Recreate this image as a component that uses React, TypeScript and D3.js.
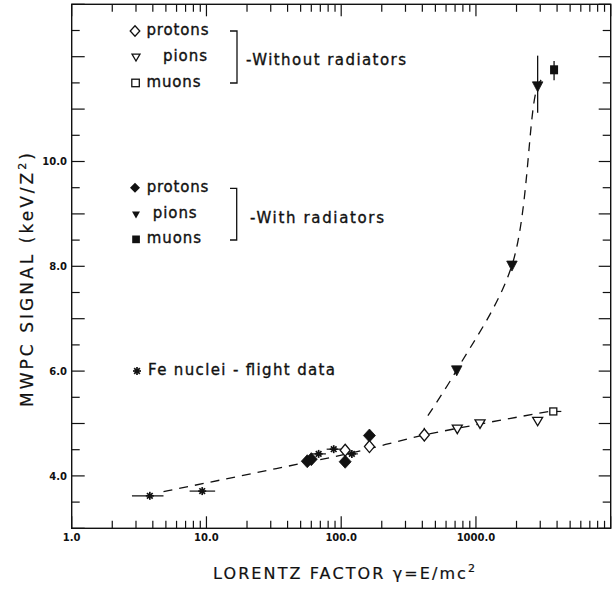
import React from 'react';
import * as d3 from 'd3';

const W = 613;
const H = 589;

// ---- data (Lorentz factor gamma, MWPC signal keV/Z^2) ----
const feGamma = [3.8, 9.3, 68, 88, 120];
const feSignal = [3.62, 3.71, 4.42, 4.51, 4.42];
const feGammaLow = [2.8, 7.5, 60, 78, 110];
const feGammaHigh = [4.8, 11.6, 77, 100, 133];

const protonOpenGamma = [107, 162, 414];
const protonOpenSignal = [4.49, 4.56, 4.78];
const protonFilledGamma = [56, 60, 107, 162];
const protonFilledSignal = [4.28, 4.32, 4.27, 4.77];

const pionOpenGamma = [727, 1072, 2870];
const pionOpenSignal = [4.9, 5.0, 5.05];
const pionFilledGamma = [720, 1850, 2870];
const pionFilledSignal = [6.02, 8.02, 11.44];

const muonOpenGamma = [3750];
const muonOpenSignal = [5.23];
const muonOpenGammaHigh = [4300];
const muonFilledGamma = [3800];
const muonFilledSignal = [11.75];

const vErrGamma = [414, 2870, 3800];
const vErrLow = [4.66, 10.93, 11.55];
const vErrHigh = [4.92, 12.02, 11.92];

const lowerCurveGamma = [4.8, 33, 120, 414, 1072, 3500];
const lowerCurveSignal = [3.7, 4.14, 4.44, 4.78, 4.99, 5.23];
const upperCurveGamma = [440, 720, 1850, 2870, 3250];
const upperCurveSignal = [5.15, 6.02, 8.02, 11.44, 11.64];

const xTickLabels = ['1.0', '10.0', '100.0', '1000.0'];
const xTickValues = [1, 10, 100, 1000];
const yTickLabels = ['4.0', '6.0', '8.0', '10.0'];
const yTickValues = [4, 6, 8, 10];

const FONT = "'DejaVu Sans', 'Liberation Sans', sans-serif";
const INK = '#111';

const x = d3.scaleLog().domain([1, 10000]).range([71.7, 610.7]);
const y = d3.scaleLinear().domain([3, 13]).range([528.3, 4.3]);

const diamond = (w: number, h: number) => `M0,${-h}L${w},0L0,${h}L${-w},0Z`;
const triDown = (w: number, h: number) => `M${-w / 2},${-h * 0.42}L${w / 2},${-h * 0.42}L0,${h * 0.58}Z`;

function Star({ cx, cy, r = 4 }: { cx: number; cy: number; r?: number }) {
  const arms = [0, 45, 90, 135];
  return (
    <g transform={`translate(${cx},${cy})`}>
      {arms.map((a) => {
        const rad = (a * Math.PI) / 180;
        return (
          <line key={a} x1={-r * Math.cos(rad)} y1={-r * Math.sin(rad)} x2={r * Math.cos(rad)} y2={r * Math.sin(rad)} stroke={INK} strokeWidth={1.7} />
        );
      })}
      <circle r={1.8} fill={INK} />
    </g>
  );
}

export default function App() {
  const [x0, x1] = x.range();
  const [yb, yt] = y.range();

  const majorX = [1, 10, 100, 1000, 10000];
  const minorX: number[] = [];
  [1, 10, 100, 1000].forEach((d) => {
    for (let k = 2; k <= 9; k++) minorX.push(d * k);
  });
  const majorY = d3.range(3, 14, 1);
  const minorY = d3.range(3.5, 13, 1);

  const lowerLine = d3
    .line<[number, number]>()
    .x((d) => x(d[0]))
    .y((d) => y(d[1]))
    .curve(d3.curveMonotoneX);
  const upperLine = d3
    .line<[number, number]>()
    .x((d) => x(d[0]))
    .y((d) => y(d[1]))
    .curve(d3.curveCatmullRom.alpha(0.5));
  const lowerPath = lowerLine(lowerCurveGamma.map((g, i) => [g, lowerCurveSignal[i]]));
  const upperPath = upperLine(upperCurveGamma.map((g, i) => [g, upperCurveSignal[i]]));

  const txt = { fontFamily: FONT, fill: INK } as const;
  const leg = { fontFamily: FONT, fill: INK, stroke: INK, strokeWidth: 0.35, fontSize: 15 } as const;

  return (
    <svg width={W} height={H} style={{ position: 'absolute', left: 0, top: 0, background: '#fff' }}>
      <rect x={0} y={0} width={W} height={H} fill="#fff" />
      {/* frame */}
      <rect x={x0} y={yt} width={x1 - x0} height={yb - yt} fill="none" stroke={INK} strokeWidth={1.4} />

      {/* x ticks (bottom & top, inward) */}
      {majorX.map((v) => (
        <g key={'xm' + v}>
          <line x1={x(v)} x2={x(v)} y1={yb} y2={yb - 12} stroke={INK} strokeWidth={1.2} />
          <line x1={x(v)} x2={x(v)} y1={yt} y2={yt + 12} stroke={INK} strokeWidth={1.2} />
        </g>
      ))}
      {minorX.map((v) => (
        <g key={'xn' + v}>
          <line x1={x(v)} x2={x(v)} y1={yb} y2={yb - 7.5} stroke={INK} strokeWidth={1.2} />
          <line x1={x(v)} x2={x(v)} y1={yt} y2={yt + 7.5} stroke={INK} strokeWidth={1.2} />
        </g>
      ))}
      {/* y ticks (left & right, inward) */}
      {majorY.map((v) => (
        <g key={'ym' + v}>
          <line x1={x0} x2={x0 + 13} y1={y(v)} y2={y(v)} stroke={INK} strokeWidth={1.2} />
          <line x1={x1} x2={x1 - 12} y1={y(v)} y2={y(v)} stroke={INK} strokeWidth={1.2} />
        </g>
      ))}
      {minorY.map((v) => (
        <g key={'yn' + v}>
          <line x1={x0} x2={x0 + 8} y1={y(v)} y2={y(v)} stroke={INK} strokeWidth={1.2} />
          <line x1={x1} x2={x1 - 8} y1={y(v)} y2={y(v)} stroke={INK} strokeWidth={1.2} />
        </g>
      ))}

      {/* tick labels */}
      {xTickValues.map((v, i) => (
        <text key={'xl' + v} x={x(v)} y={540.5} textAnchor="middle" fontSize={10} fontWeight="bold" {...txt}>
          {xTickLabels[i]}
        </text>
      ))}
      {yTickValues.map((v, i) => (
        <text key={'yl' + v} x={67} y={y(v) + 3.6} textAnchor="end" fontSize={10} fontWeight="bold" {...txt}>
          {yTickLabels[i]}
        </text>
      ))}

      {/* axis titles */}
      <text x={344} y={579} textAnchor="middle" fontSize={16} textLength={262} lengthAdjust="spacing" {...txt} stroke={INK} strokeWidth={0.2}>
        LORENTZ FACTOR γ=E/mc<tspan dy={-7} fontSize={11}>2</tspan>
      </text>
      <text transform="translate(33,280) rotate(-90)" textAnchor="middle" fontSize={17} textLength={254} lengthAdjust="spacing" {...txt} stroke={INK} strokeWidth={0.2}>
        MWPC SIGNAL (keV/Z<tspan dy={-7} fontSize={11}>2</tspan><tspan dy={7}>)</tspan>
      </text>

      {/* fitted dashed curves */}
      <path d={lowerPath || ''} fill="none" stroke={INK} strokeWidth={1.3} strokeDasharray="9,7" />
      <path d={upperPath || ''} fill="none" stroke={INK} strokeWidth={1.3} strokeDasharray="9,7" />

      {/* error bars */}
      {feGamma.map((g, i) => (
        <line key={'feh' + i} x1={x(feGammaLow[i])} x2={x(feGammaHigh[i])} y1={y(feSignal[i])} y2={y(feSignal[i])} stroke={INK} strokeWidth={1.2} />
      ))}
      {vErrGamma.map((g, i) => (
        <line key={'ve' + i} x1={x(g)} x2={x(g)} y1={y(vErrLow[i])} y2={y(vErrHigh[i])} stroke={INK} strokeWidth={1.3} />
      ))}
      {muonOpenGamma.map((g, i) => (
        <line key={'muh' + i} x1={x(g)} x2={x(muonOpenGammaHigh[i])} y1={y(muonOpenSignal[i])} y2={y(muonOpenSignal[i])} stroke={INK} strokeWidth={1.2} />
      ))}

      {/* Fe nuclei stars */}
      {feGamma.map((g, i) => (
        <Star key={'fe' + i} cx={x(g)} cy={y(feSignal[i])} />
      ))}

      {/* protons */}
      {protonFilledGamma.map((g, i) => (
        <path key={'pf' + i} d={diamond(6, 6.5)} transform={`translate(${x(g)},${y(protonFilledSignal[i])})`} fill={INK} stroke={INK} strokeWidth={0.8} />
      ))}
      {protonOpenGamma.map((g, i) => (
        <path key={'po' + i} d={diamond(5, 6)} transform={`translate(${x(g)},${y(protonOpenSignal[i])})`} fill="#fff" stroke={INK} strokeWidth={1.3} />
      ))}

      {/* pions */}
      {pionOpenGamma.map((g, i) => (
        <path key={'pio' + i} d={triDown(10, 8.5)} transform={`translate(${x(g)},${y(pionOpenSignal[i])})`} fill="#fff" stroke={INK} strokeWidth={1.3} />
      ))}
      {pionFilledGamma.map((g, i) => (
        <path key={'pif' + i} d={triDown(10.5, 10)} transform={`translate(${x(g)},${y(pionFilledSignal[i])})`} fill={INK} stroke={INK} strokeWidth={0.8} />
      ))}

      {/* muons */}
      {muonOpenGamma.map((g, i) => (
        <rect key={'mo' + i} x={x(g) - 3.5} y={y(muonOpenSignal[i]) - 3.5} width={7} height={7} fill="#fff" stroke={INK} strokeWidth={1.3} />
      ))}
      {muonFilledGamma.map((g, i) => (
        <rect key={'mf' + i} x={x(g) - 4} y={y(muonFilledSignal[i]) - 4.5} width={8} height={9} fill={INK} />
      ))}

      {/* legend: without radiators */}
      <path d={diamond(4.8, 5.2)} transform="translate(135,31)" fill="#fff" stroke={INK} strokeWidth={1.3} />
      <text x={146.5} y={35} textLength={62} lengthAdjust="spacing" {...leg}>protons</text>
      <path d={triDown(8, 7)} transform="translate(136,57)" fill="#fff" stroke={INK} strokeWidth={1.3} />
      <text x={163} y={61} textLength={44} lengthAdjust="spacing" {...leg}>pions</text>
      <rect x={131.8} y={79.2} width={7.5} height={7.5} fill="#fff" stroke={INK} strokeWidth={1.3} />
      <text x={146.5} y={87} textLength={54} lengthAdjust="spacing" {...leg}>muons</text>
      <path d="M230,31H237V83H230" fill="none" stroke={INK} strokeWidth={1.3} />
      <text x={246} y={65} textLength={160} lengthAdjust="spacing" {...leg}>-Without radiators</text>

      {/* legend: with radiators */}
      <path d={diamond(5, 5)} transform="translate(135,187.7)" fill={INK} />
      <text x={146.7} y={191.7} textLength={61.6} lengthAdjust="spacing" {...leg}>protons</text>
      <path d={triDown(8, 7)} transform="translate(136,214.5)" fill={INK} />
      <text x={152.7} y={217.5} textLength={44} lengthAdjust="spacing" {...leg}>pions</text>
      <rect x={132.2} y={235.5} width={7.7} height={7.7} fill={INK} />
      <text x={146.7} y={243.3} textLength={54.3} lengthAdjust="spacing" {...leg}>muons</text>
      <path d="M230,188.3H236.7V240H230" fill="none" stroke={INK} strokeWidth={1.3} />
      <text x={250} y={222.5} textLength={134} lengthAdjust="spacing" {...leg}>-With radiators</text>

      {/* legend: Fe nuclei */}
      <Star cx={137} cy={371} r={4} />
      <text x={148} y={375} textLength={187} lengthAdjust="spacing" {...leg}>Fe nuclei - flight data</text>
    </svg>
  );
}
